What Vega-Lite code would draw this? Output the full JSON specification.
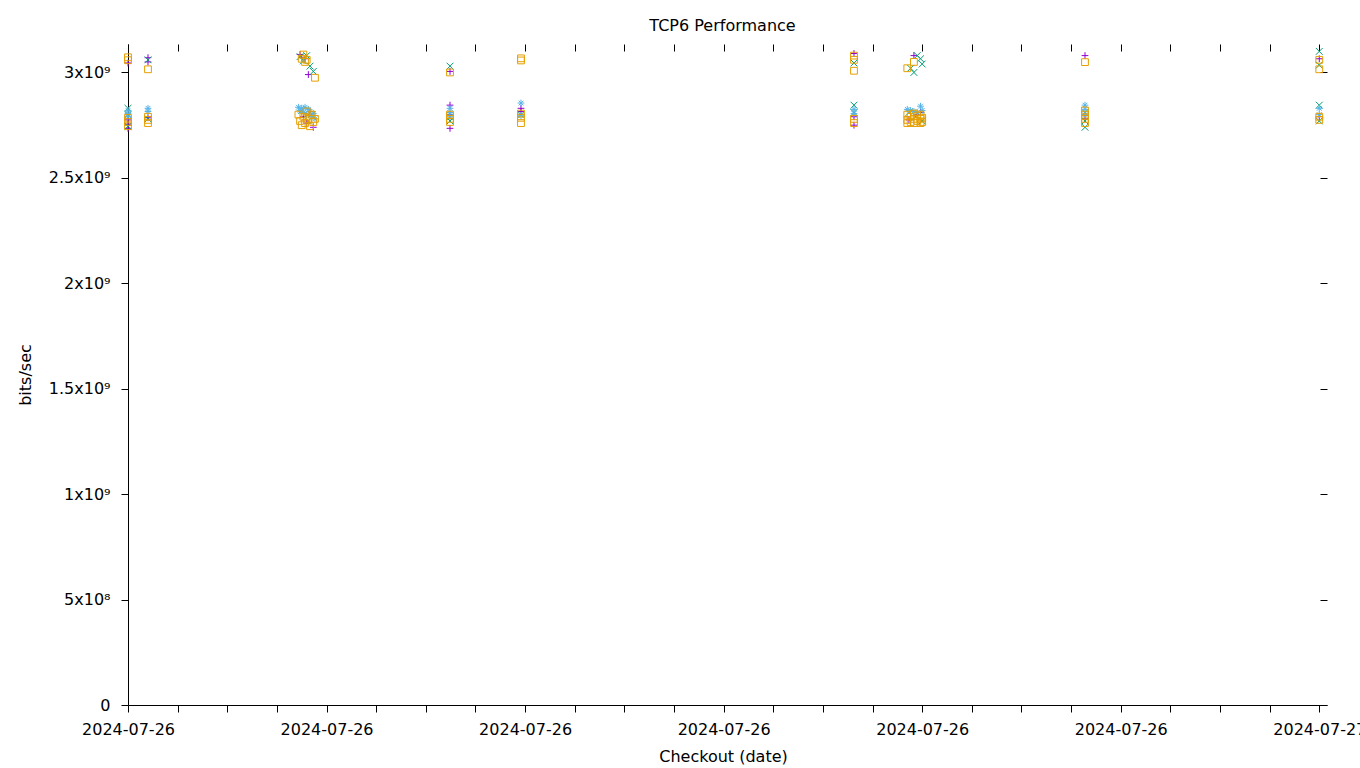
{
  "$schema": "https://vega.github.io/schema/vega-lite/v6.json",
  "width": 1199,
  "height": 661,
  "autosize": {"type": "none"},
  "padding": {"left": 128, "top": 44, "right": 33, "bottom": 63},
  "background": "white",
  "title": {"text": "TCP6 Performance", "font": "DejaVu Sans", "fontSize": 16, "fontWeight": "normal", "color": "black", "anchor": "middle", "offset": 10, "dx": -5},
  "config": {
    "view": {"stroke": null},
    "font": "DejaVu Sans",
    "axis": {"grid": false, "domainColor": "black", "tickColor": "black", "labelColor": "black", "titleColor": "black", "labelFont": "DejaVu Sans", "titleFont": "DejaVu Sans", "labelFontSize": 16, "titleFontSize": 16, "titleFontWeight": "normal", "domainWidth": 1, "tickWidth": 1}
  },
  "data": {"values": [
    {"t": "2024-07-26T12:00:00Z", "v": 3.045e9, "s": "s1"},
    {"t": "2024-07-26T12:00:00Z", "v": 2.775e9, "s": "s1"},
    {"t": "2024-07-26T12:00:00Z", "v": 2.755e9, "s": "s1"},
    {"t": "2024-07-26T12:00:00Z", "v": 2.735e9, "s": "s1"},
    {"t": "2024-07-26T12:12:05Z", "v": 3.07e9, "s": "s1"},
    {"t": "2024-07-26T12:12:05Z", "v": 3.05e9, "s": "s1"},
    {"t": "2024-07-26T12:12:05Z", "v": 2.785e9, "s": "s1"},
    {"t": "2024-07-26T13:44:00Z", "v": 3.085e9, "s": "s1"},
    {"t": "2024-07-26T13:45:00Z", "v": 3.07e9, "s": "s1"},
    {"t": "2024-07-26T13:47:00Z", "v": 3.065e9, "s": "s1"},
    {"t": "2024-07-26T13:49:00Z", "v": 2.99e9, "s": "s1"},
    {"t": "2024-07-26T13:46:00Z", "v": 2.79e9, "s": "s1"},
    {"t": "2024-07-26T13:48:00Z", "v": 2.76e9, "s": "s1"},
    {"t": "2024-07-26T13:52:00Z", "v": 2.74e9, "s": "s1"},
    {"t": "2024-07-26T13:50:00Z", "v": 2.815e9, "s": "s1"},
    {"t": "2024-07-26T15:14:37Z", "v": 3.005e9, "s": "s1"},
    {"t": "2024-07-26T15:14:37Z", "v": 2.845e9, "s": "s1"},
    {"t": "2024-07-26T15:14:37Z", "v": 2.735e9, "s": "s1"},
    {"t": "2024-07-26T15:14:37Z", "v": 2.8e9, "s": "s1"},
    {"t": "2024-07-26T15:57:31Z", "v": 2.83e9, "s": "s1"},
    {"t": "2024-07-26T15:57:31Z", "v": 2.815e9, "s": "s1"},
    {"t": "2024-07-26T19:18:47Z", "v": 3.09e9, "s": "s1"},
    {"t": "2024-07-26T19:18:47Z", "v": 2.75e9, "s": "s1"},
    {"t": "2024-07-26T19:18:47Z", "v": 2.79e9, "s": "s1"},
    {"t": "2024-07-26T19:55:00Z", "v": 3.08e9, "s": "s1"},
    {"t": "2024-07-26T19:59:00Z", "v": 2.81e9, "s": "s1"},
    {"t": "2024-07-26T19:52:00Z", "v": 2.775e9, "s": "s1"},
    {"t": "2024-07-26T19:57:00Z", "v": 2.8e9, "s": "s1"},
    {"t": "2024-07-26T21:38:24Z", "v": 3.08e9, "s": "s1"},
    {"t": "2024-07-26T21:38:24Z", "v": 2.78e9, "s": "s1"},
    {"t": "2024-07-27T00:00:00Z", "v": 3.065e9, "s": "s1"},
    {"t": "2024-07-27T00:00:00Z", "v": 2.79e9, "s": "s1"},

    {"t": "2024-07-26T12:00:00Z", "v": 2.83e9, "s": "s2"},
    {"t": "2024-07-26T12:00:00Z", "v": 2.745e9, "s": "s2"},
    {"t": "2024-07-26T12:00:00Z", "v": 2.8e9, "s": "s2"},
    {"t": "2024-07-26T12:12:05Z", "v": 3.06e9, "s": "s2"},
    {"t": "2024-07-26T12:12:05Z", "v": 2.78e9, "s": "s2"},
    {"t": "2024-07-26T13:44:00Z", "v": 3.075e9, "s": "s2"},
    {"t": "2024-07-26T13:46:00Z", "v": 3.055e9, "s": "s2"},
    {"t": "2024-07-26T13:48:00Z", "v": 3.08e9, "s": "s2"},
    {"t": "2024-07-26T13:50:00Z", "v": 3.03e9, "s": "s2"},
    {"t": "2024-07-26T13:52:00Z", "v": 3.005e9, "s": "s2"},
    {"t": "2024-07-26T13:45:00Z", "v": 2.82e9, "s": "s2"},
    {"t": "2024-07-26T13:49:00Z", "v": 2.77e9, "s": "s2"},
    {"t": "2024-07-26T13:51:00Z", "v": 2.8e9, "s": "s2"},
    {"t": "2024-07-26T15:14:37Z", "v": 3.03e9, "s": "s2"},
    {"t": "2024-07-26T15:14:37Z", "v": 2.79e9, "s": "s2"},
    {"t": "2024-07-26T15:14:37Z", "v": 2.77e9, "s": "s2"},
    {"t": "2024-07-26T15:57:31Z", "v": 2.8e9, "s": "s2"},
    {"t": "2024-07-26T19:18:47Z", "v": 3.045e9, "s": "s2"},
    {"t": "2024-07-26T19:18:47Z", "v": 2.845e9, "s": "s2"},
    {"t": "2024-07-26T19:18:47Z", "v": 2.81e9, "s": "s2"},
    {"t": "2024-07-26T19:53:00Z", "v": 3.02e9, "s": "s2"},
    {"t": "2024-07-26T19:55:00Z", "v": 3.0e9, "s": "s2"},
    {"t": "2024-07-26T19:57:00Z", "v": 3.08e9, "s": "s2"},
    {"t": "2024-07-26T19:59:00Z", "v": 3.065e9, "s": "s2"},
    {"t": "2024-07-26T20:00:00Z", "v": 3.04e9, "s": "s2"},
    {"t": "2024-07-26T19:52:00Z", "v": 2.81e9, "s": "s2"},
    {"t": "2024-07-26T19:56:00Z", "v": 2.79e9, "s": "s2"},
    {"t": "2024-07-26T20:00:00Z", "v": 2.77e9, "s": "s2"},
    {"t": "2024-07-26T21:38:24Z", "v": 2.81e9, "s": "s2"},
    {"t": "2024-07-26T21:38:24Z", "v": 2.74e9, "s": "s2"},
    {"t": "2024-07-26T21:38:24Z", "v": 2.77e9, "s": "s2"},
    {"t": "2024-07-27T00:00:00Z", "v": 3.1e9, "s": "s2"},
    {"t": "2024-07-27T00:00:00Z", "v": 3.035e9, "s": "s2"},
    {"t": "2024-07-27T00:00:00Z", "v": 2.845e9, "s": "s2"},
    {"t": "2024-07-27T00:00:00Z", "v": 2.77e9, "s": "s2"},

    {"t": "2024-07-26T12:00:00Z", "v": 2.82e9, "s": "s3"},
    {"t": "2024-07-26T12:00:00Z", "v": 2.805e9, "s": "s3"},
    {"t": "2024-07-26T12:00:00Z", "v": 2.79e9, "s": "s3"},
    {"t": "2024-07-26T12:12:05Z", "v": 2.83e9, "s": "s3"},
    {"t": "2024-07-26T12:12:05Z", "v": 2.815e9, "s": "s3"},
    {"t": "2024-07-26T13:43:00Z", "v": 2.835e9, "s": "s3"},
    {"t": "2024-07-26T13:44:00Z", "v": 2.82e9, "s": "s3"},
    {"t": "2024-07-26T13:45:00Z", "v": 2.83e9, "s": "s3"},
    {"t": "2024-07-26T13:46:00Z", "v": 2.81e9, "s": "s3"},
    {"t": "2024-07-26T13:47:00Z", "v": 2.835e9, "s": "s3"},
    {"t": "2024-07-26T13:48:00Z", "v": 2.8e9, "s": "s3"},
    {"t": "2024-07-26T13:49:00Z", "v": 2.825e9, "s": "s3"},
    {"t": "2024-07-26T13:50:00Z", "v": 2.815e9, "s": "s3"},
    {"t": "2024-07-26T13:51:00Z", "v": 2.79e9, "s": "s3"},
    {"t": "2024-07-26T13:52:00Z", "v": 2.805e9, "s": "s3"},
    {"t": "2024-07-26T13:53:00Z", "v": 2.78e9, "s": "s3"},
    {"t": "2024-07-26T15:14:37Z", "v": 2.83e9, "s": "s3"},
    {"t": "2024-07-26T15:14:37Z", "v": 2.81e9, "s": "s3"},
    {"t": "2024-07-26T15:14:37Z", "v": 2.79e9, "s": "s3"},
    {"t": "2024-07-26T15:57:31Z", "v": 2.855e9, "s": "s3"},
    {"t": "2024-07-26T15:57:31Z", "v": 2.795e9, "s": "s3"},
    {"t": "2024-07-26T19:18:47Z", "v": 2.825e9, "s": "s3"},
    {"t": "2024-07-26T19:18:47Z", "v": 2.805e9, "s": "s3"},
    {"t": "2024-07-26T19:51:00Z", "v": 2.825e9, "s": "s3"},
    {"t": "2024-07-26T19:53:00Z", "v": 2.82e9, "s": "s3"},
    {"t": "2024-07-26T19:55:00Z", "v": 2.815e9, "s": "s3"},
    {"t": "2024-07-26T19:57:00Z", "v": 2.81e9, "s": "s3"},
    {"t": "2024-07-26T19:59:00Z", "v": 2.84e9, "s": "s3"},
    {"t": "2024-07-26T20:00:00Z", "v": 2.82e9, "s": "s3"},
    {"t": "2024-07-26T21:38:24Z", "v": 2.845e9, "s": "s3"},
    {"t": "2024-07-26T21:38:24Z", "v": 2.825e9, "s": "s3"},
    {"t": "2024-07-26T21:38:24Z", "v": 2.8e9, "s": "s3"},
    {"t": "2024-07-27T00:00:00Z", "v": 2.83e9, "s": "s3"},
    {"t": "2024-07-27T00:00:00Z", "v": 2.8e9, "s": "s3"},

    {"t": "2024-07-26T12:00:00Z", "v": 3.072e9, "s": "s4"},
    {"t": "2024-07-26T12:00:00Z", "v": 3.058e9, "s": "s4"},
    {"t": "2024-07-26T12:00:00Z", "v": 2.785e9, "s": "s4"},
    {"t": "2024-07-26T12:00:00Z", "v": 2.765e9, "s": "s4"},
    {"t": "2024-07-26T12:00:00Z", "v": 2.745e9, "s": "s4"},
    {"t": "2024-07-26T12:12:05Z", "v": 3.015e9, "s": "s4"},
    {"t": "2024-07-26T12:12:05Z", "v": 2.79e9, "s": "s4"},
    {"t": "2024-07-26T12:12:05Z", "v": 2.775e9, "s": "s4"},
    {"t": "2024-07-26T12:12:05Z", "v": 2.76e9, "s": "s4"},
    {"t": "2024-07-26T13:45:00Z", "v": 3.065e9, "s": "s4"},
    {"t": "2024-07-26T13:46:00Z", "v": 3.085e9, "s": "s4"},
    {"t": "2024-07-26T13:47:00Z", "v": 3.05e9, "s": "s4"},
    {"t": "2024-07-26T13:48:00Z", "v": 3.06e9, "s": "s4"},
    {"t": "2024-07-26T13:53:00Z", "v": 2.975e9, "s": "s4"},
    {"t": "2024-07-26T13:43:00Z", "v": 2.8e9, "s": "s4"},
    {"t": "2024-07-26T13:44:00Z", "v": 2.77e9, "s": "s4"},
    {"t": "2024-07-26T13:45:00Z", "v": 2.75e9, "s": "s4"},
    {"t": "2024-07-26T13:46:00Z", "v": 2.79e9, "s": "s4"},
    {"t": "2024-07-26T13:47:00Z", "v": 2.76e9, "s": "s4"},
    {"t": "2024-07-26T13:48:00Z", "v": 2.815e9, "s": "s4"},
    {"t": "2024-07-26T13:49:00Z", "v": 2.78e9, "s": "s4"},
    {"t": "2024-07-26T13:50:00Z", "v": 2.745e9, "s": "s4"},
    {"t": "2024-07-26T13:51:00Z", "v": 2.8e9, "s": "s4"},
    {"t": "2024-07-26T13:52:00Z", "v": 2.765e9, "s": "s4"},
    {"t": "2024-07-26T13:53:00Z", "v": 2.78e9, "s": "s4"},
    {"t": "2024-07-26T15:14:37Z", "v": 3.0e9, "s": "s4"},
    {"t": "2024-07-26T15:14:37Z", "v": 2.8e9, "s": "s4"},
    {"t": "2024-07-26T15:14:37Z", "v": 2.78e9, "s": "s4"},
    {"t": "2024-07-26T15:14:37Z", "v": 2.765e9, "s": "s4"},
    {"t": "2024-07-26T15:57:31Z", "v": 3.067e9, "s": "s4"},
    {"t": "2024-07-26T15:57:31Z", "v": 3.057e9, "s": "s4"},
    {"t": "2024-07-26T15:57:31Z", "v": 2.805e9, "s": "s4"},
    {"t": "2024-07-26T15:57:31Z", "v": 2.785e9, "s": "s4"},
    {"t": "2024-07-26T15:57:31Z", "v": 2.76e9, "s": "s4"},
    {"t": "2024-07-26T19:18:47Z", "v": 3.08e9, "s": "s4"},
    {"t": "2024-07-26T19:18:47Z", "v": 3.06e9, "s": "s4"},
    {"t": "2024-07-26T19:18:47Z", "v": 3.008e9, "s": "s4"},
    {"t": "2024-07-26T19:18:47Z", "v": 2.78e9, "s": "s4"},
    {"t": "2024-07-26T19:18:47Z", "v": 2.76e9, "s": "s4"},
    {"t": "2024-07-26T19:51:00Z", "v": 3.02e9, "s": "s4"},
    {"t": "2024-07-26T19:55:00Z", "v": 3.05e9, "s": "s4"},
    {"t": "2024-07-26T19:51:00Z", "v": 2.8e9, "s": "s4"},
    {"t": "2024-07-26T19:51:00Z", "v": 2.775e9, "s": "s4"},
    {"t": "2024-07-26T19:51:00Z", "v": 2.76e9, "s": "s4"},
    {"t": "2024-07-26T19:53:00Z", "v": 2.79e9, "s": "s4"},
    {"t": "2024-07-26T19:53:00Z", "v": 2.765e9, "s": "s4"},
    {"t": "2024-07-26T19:55:00Z", "v": 2.805e9, "s": "s4"},
    {"t": "2024-07-26T19:55:00Z", "v": 2.78e9, "s": "s4"},
    {"t": "2024-07-26T19:55:00Z", "v": 2.76e9, "s": "s4"},
    {"t": "2024-07-26T19:57:00Z", "v": 2.795e9, "s": "s4"},
    {"t": "2024-07-26T19:57:00Z", "v": 2.77e9, "s": "s4"},
    {"t": "2024-07-26T19:59:00Z", "v": 2.8e9, "s": "s4"},
    {"t": "2024-07-26T19:59:00Z", "v": 2.78e9, "s": "s4"},
    {"t": "2024-07-26T19:59:00Z", "v": 2.76e9, "s": "s4"},
    {"t": "2024-07-26T20:00:00Z", "v": 2.785e9, "s": "s4"},
    {"t": "2024-07-26T20:00:00Z", "v": 2.765e9, "s": "s4"},
    {"t": "2024-07-26T21:38:24Z", "v": 3.049e9, "s": "s4"},
    {"t": "2024-07-26T21:38:24Z", "v": 2.82e9, "s": "s4"},
    {"t": "2024-07-26T21:38:24Z", "v": 2.8e9, "s": "s4"},
    {"t": "2024-07-26T21:38:24Z", "v": 2.78e9, "s": "s4"},
    {"t": "2024-07-26T21:38:24Z", "v": 2.76e9, "s": "s4"},
    {"t": "2024-07-27T00:00:00Z", "v": 3.06e9, "s": "s4"},
    {"t": "2024-07-27T00:00:00Z", "v": 3.015e9, "s": "s4"},
    {"t": "2024-07-27T00:00:00Z", "v": 2.79e9, "s": "s4"},
    {"t": "2024-07-27T00:00:00Z", "v": 2.775e9, "s": "s4"}
  ]},
  "layer": [
    {
      "mark": {"type": "point", "filled": false, "opacity": 1, "strokeWidth": 1, "size": 46},
      "encoding": {
        "x": {"field": "t", "type": "temporal",
          "scale": {"nice": false, "domain": [{"year": 2024, "month": 7, "date": 26, "hours": 12}, {"year": 2024, "month": 7, "date": 27, "hours": 0, "minutes": 4, "seconds": 40}]},
          "axis": {"orient": "bottom", "title": "Checkout (date)", "tickSize": 7, "titleX": 595,
            "labelExpr": "(minutes(datum.value) == 0 && hours(datum.value) % 2 == 0) ? timeFormat(datum.value, '%Y-%m-%d') : ''",
            "labelOverlap": false, "labelFlush": false, "labelBound": false, "labelPadding": 9, "titlePadding": 11,
            "encode": {"ticks": {"update": {"y2": {"signal": "(minutes(datum.value) == 0 && hours(datum.value) % 2 == 0) ? 7 : 3"}}}}}},
        "y": {"field": "v", "type": "quantitative",
          "scale": {"domain": [0, 3135000000], "nice": false, "zero": true},
          "axis": {"orient": "left", "title": "bits/sec", "values": [0, 500000000, 1000000000, 1500000000, 2000000000, 2500000000, 3000000000],
            "tickSize": 7, "labelPadding": 11, "titlePadding": 15,
            "labelExpr": "datum.value == 0 ? '0' : (datum.value < 1000000000 ? format(datum.value / 100000000, '~g') + 'x10⁸' : format(datum.value / 1000000000, '~g') + 'x10⁹')"}},
        "color": {"field": "s", "type": "nominal", "legend": null,
          "scale": {"domain": ["s1", "s2", "s3", "s4"], "range": ["#9400d3", "#009e73", "#56b4e9", "#e69f00"]}},
        "shape": {"field": "s", "type": "nominal", "legend": null,
          "scale": {"domain": ["s1", "s2", "s3", "s4"], "range": ["M-1,0L1,0M0,-1L0,1", "M-1,-1L1,1M-1,1L1,-1", "M-1,0L1,0M0,-1L0,1M-0.7,-0.7L0.7,0.7M-0.7,0.7L0.7,-0.7", "M-1,-1L1,-1L1,1L-1,1Z"]}}
      }
    },
    {
      "mark": {"type": "point", "opacity": 0},
      "encoding": {
        "x": {"field": "t", "type": "temporal",
          "axis": {"orient": "top", "title": null, "labels": false, "domain": false, "offset": -7, "tickSize": 7,
            "encode": {"ticks": {"update": {"y2": {"signal": "(minutes(datum.value) == 0 && hours(datum.value) % 2 == 0) ? -7 : -3"}}}}}},
        "y": {"field": "v", "type": "quantitative",
          "axis": {"orient": "right", "title": null, "labels": false, "domain": false, "offset": -7, "tickSize": 7,
            "values": [0, 500000000, 1000000000, 1500000000, 2000000000, 2500000000, 3000000000]}}
      }
    }
  ],
  "resolve": {"axis": {"x": "independent", "y": "independent"}}
}
